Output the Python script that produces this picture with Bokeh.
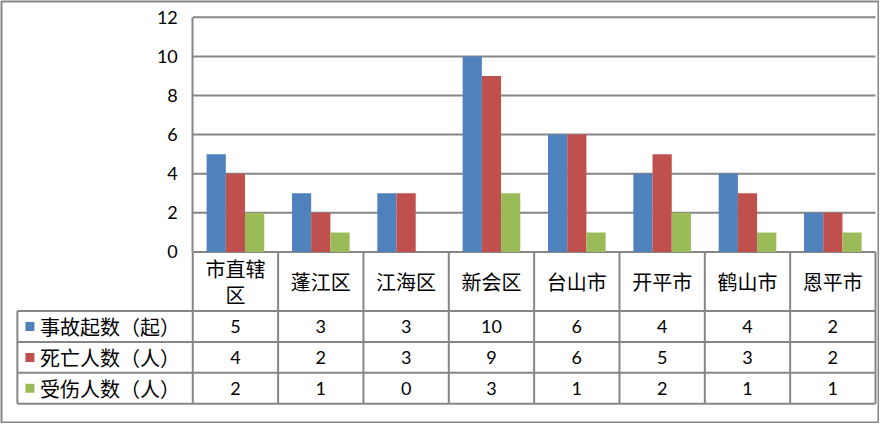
from bokeh.plotting import figure
from bokeh.models import ColumnDataSource, FixedTicker, Range1d
from bokeh.core.properties import value
from bokeh.embed import file_html
from bokeh.resources import INLINE

# ---- data ----
categories = ["市直辖\n区", "蓬江区", "江海区", "新会区", "台山市", "开平市", "鹤山市", "恩平市"]
series_names = ["事故起数（起）", "死亡人数（人）", "受伤人数（人）"]
accidents = [5, 3, 3, 10, 6, 4, 4, 2]
deaths = [4, 2, 3, 9, 6, 5, 3, 2]
injuries = [2, 1, 0, 3, 1, 2, 1, 1]
y_ticks = [0, 2, 4, 6, 8, 10, 12]

# ---- styles / layout ----
colors = ["#4F81BD", "#C0504D", "#9BBB59"]
GRAY = "#868686"
CJK = value("Noto Sans CJK SC")
NUM = value("Lato")
BAR_W = 0.225
TABLE_LEFT = -2.055
HEADER_BOTTOM = -3.025
ROW_H = 1.58

series = [accidents, deaths, injuries]
n = len(categories)
centers = [i + 0.5 for i in range(n)]

p = figure(width=879, height=423, output_backend="svg", toolbar_location=None,
           x_range=Range1d(-2.241, 8.035), y_range=Range1d(-8.723, 12.807),
           x_axis_type=None, min_border=1)
p.min_border_left = 1
p.min_border_right = 1
p.min_border_top = 1
p.min_border_bottom = 1
p.outline_line_color = GRAY
p.outline_line_width = 2
p.xgrid.visible = False
p.ygrid.visible = False
p.background_fill_color = "white"
p.border_fill_color = "white"

# y axis placed at x = 0 inside the frame
ya = p.yaxis[0]
ya.fixed_location = 0
ya.bounds = (0, 12)
ya.ticker = FixedTicker(ticks=y_ticks)
ya.axis_line_color = GRAY
ya.axis_line_width = 2
ya.major_tick_line_color = None
ya.minor_tick_line_color = None
ya.major_tick_out = 0
ya.major_tick_in = 0
ya.major_label_standoff = 15
ya.major_label_text_font = "Lato"
ya.major_label_text_font_size = "18px"
ya.major_label_text_color = "black"

# gridlines
p.segment(x0=[0] * len(y_ticks), x1=[n] * len(y_ticks), y0=y_ticks, y1=y_ticks,
          line_color=GRAY, line_width=2)

# bars
for k, (vals, col) in enumerate(zip(series, colors)):
    xs = [c + (k - 1) * BAR_W for c in centers]
    p.vbar(x=xs, top=vals, bottom=0, width=BAR_W, fill_color=col, line_color=None)

# ---- data table ----
row_lines = [HEADER_BOTTOM - ROW_H * r for r in range(len(series_names) + 1)]
bottom = row_lines[-1]
# horizontal lines of the rows
p.segment(x0=[TABLE_LEFT] * len(row_lines), x1=[n] * len(row_lines), y0=row_lines, y1=row_lines,
          line_color=GRAY, line_width=2)
# vertical lines of the category columns
p.segment(x0=list(range(n + 1)), x1=list(range(n + 1)), y0=[0] * (n + 1), y1=[bottom] * (n + 1),
          line_color=GRAY, line_width=2)
# left edge of the row header column
p.segment(x0=[TABLE_LEFT], x1=[TABLE_LEFT], y0=[HEADER_BOTTOM], y1=[bottom],
          line_color=GRAY, line_width=2)

# category headers
p.text(x=centers, y=[HEADER_BOTTOM / 2] * n, text=categories, text_font=CJK,
       text_font_size="20px", text_align="center", text_baseline="middle",
       text_color="black", text_line_height=0.93)

# row headers with legend keys and values
for k, (name, vals, col) in enumerate(zip(series_names, series, colors)):
    yc = HEADER_BOTTOM - ROW_H * (k + 0.5)
    p.scatter(x=[-1.908], y=[yc], marker="square", size=9, fill_color=col, line_color=None)
    p.text(x=[-1.79], y=[yc], text=[name], text_font=CJK, text_font_size="20px",
           text_align="left", text_baseline="middle", text_color="black")
    p.text(x=centers, y=[yc] * n, text=[str(v) for v in vals], text_font=NUM,
           text_font_size="18px", text_align="center", text_baseline="middle",
           text_color="black")

open("out.html", "w").write(file_html(p, INLINE))
